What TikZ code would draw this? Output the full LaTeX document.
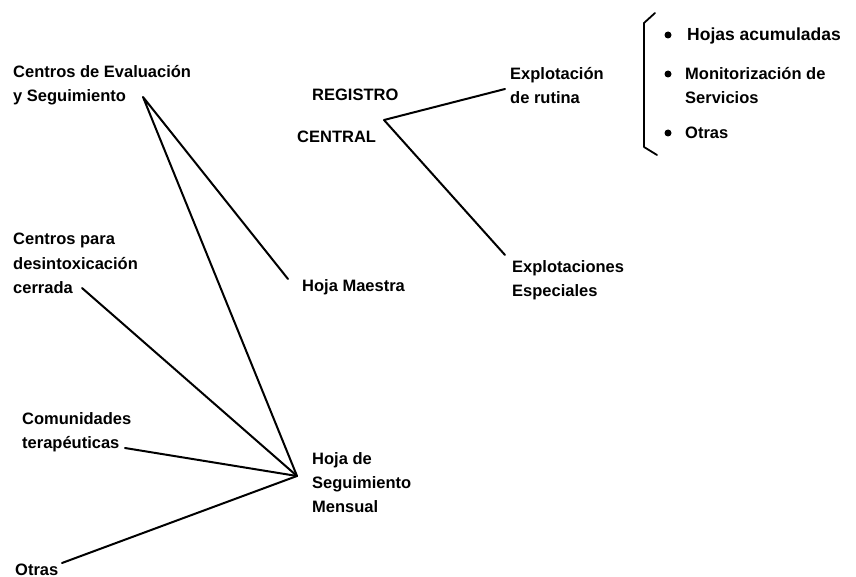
\documentclass[tikz,border=0pt]{standalone}
\usepackage{fontspec}
\setmainfont{Liberation Sans}
\begin{document}
\begin{tikzpicture}[x=1pt, y=-1pt, line join=round, line cap=round,
 font=\fontsize{16.5}{24}\selectfont\bfseries,
 txt/.style={anchor=base west, inner sep=0pt, align=left},
 link/.style={line width=2pt}]
 \useasboundingbox (0,0) rectangle (856,577);
 % centros (base = last line)
 \node[txt] (eval) at (13,102) {Centros de Evaluación\\y Seguimiento};
 \node[txt] (desintox) at (13,293) {Centros para\\desintoxicación\\cerrada};
 \node[txt] (comunidades) at (22,448) {Comunidades\\terapéuticas};
 \node[txt] (otras) at (15,575) {Otras};
 % hojas
 \node[txt] (maestra) at (302,291) {Hoja Maestra};
 \node[txt] (mensual) at (312,512) {Hoja de\\Seguimiento\\Mensual};
 % registro
 \node[txt] (registro) at (312,101) {REGISTRO};
 \node[txt] (central) at (297,143) {CENTRAL};
 \node[txt] (rutina) at (510,104) {Explotación\\de rutina};
 \node[txt] (especiales) at (512,296) {Explotaciones\\Especiales};
 % lista
 \node[txt, font=\fontsize{17.5}{24}\selectfont\bfseries] (acum) at (687,41) {Hojas acumuladas};
 \node[txt] (monit) at (685,104) {Monitorización de\\Servicios};
 \node[txt] (otrasb) at (685,139) {Otras};
 \foreach \y in {35,74,133}
 \fill (668,\y) circle (3.5pt);
 \draw[line width=1.8pt] (655,13)--(644,23)--(644,147)--(657,155);
 % puntos de union
 \coordinate (hubEval) at (143,97);
 \coordinate (hubMensual) at (297,476);
 \coordinate (hubCentral) at (384,120);
 \coordinate (endMaestra) at (288,279);
 \coordinate (endDesintox) at (82,288);
 \coordinate (endComunidades) at (125,448);
 \coordinate (endOtras) at (62,563);
 \coordinate (endRutina) at (505,89);
 \coordinate (endEspeciales) at (505,255);
 \draw[link] (endMaestra)--(hubEval)--(hubMensual);
 \foreach \p in {endDesintox,endComunidades,endOtras}
 \draw[link] (\p)--(hubMensual);
 \draw[link] (endRutina)--(hubCentral)--(endEspeciales);
\end{tikzpicture}
\end{document}
